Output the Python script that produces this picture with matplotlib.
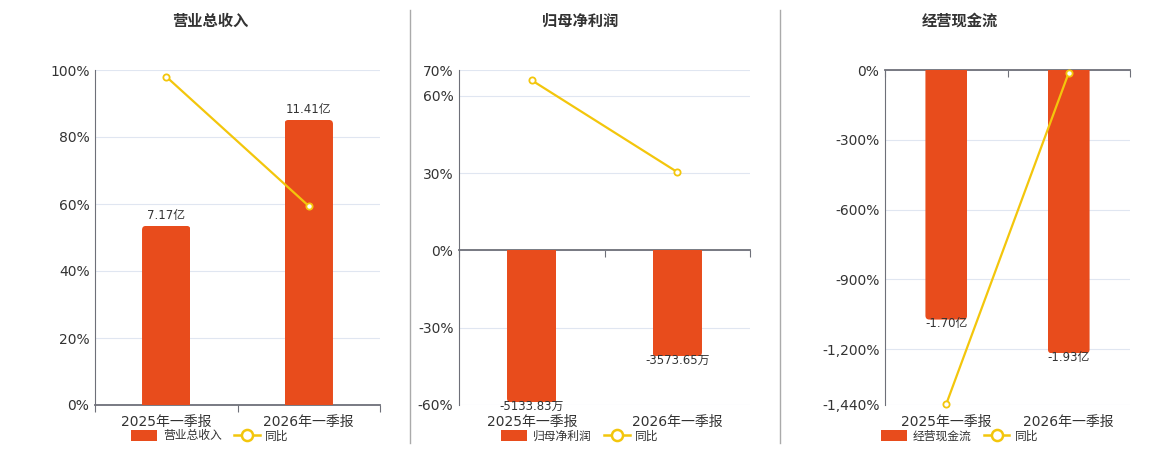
import matplotlib.pyplot as plt
from matplotlib.patches import Patch, FancyBboxPatch
from matplotlib.lines import Line2D
from matplotlib.ticker import FuncFormatter

plt.rcParams['font.family'] = ['DejaVu Sans', 'Noto Sans CJK SC']

# data
periods = ['2025年一季报', '2026年一季报']

revenue = [7.17, 11.41]              # 亿
revenue_labels = ['7.17亿', '11.41亿']
revenue_yoy = [98.0, 59.4]           # %

net_profit = [-5133.83, -3573.65]    # 万
net_profit_labels = ['-5133.83万', '-3573.65万']
net_profit_yoy = [66.0, 30.4]

cash_flow = [-1.70, -1.93]           # 亿
cash_flow_labels = ['-1.70亿', '-1.93亿']
cash_flow_yoy = [-1436.0, -11.6]

BAR_COLOR = '#e84c1c'
LINE_COLOR = '#f3c60c'
AXIS_COLOR = '#6e7079'
GRID_COLOR = '#e0e6f1'
TEXT_COLOR = '#333333'

W, H = 1160, 450
BAR_W = 0.34
CORNER_PX = 4

panels = [
    dict(title='营业总收入', name='营业总收入', bars=revenue, labels=revenue_labels,
         yoy=revenue_yoy, pct_lim=(0, 100), pct_ticks=[0, 20, 40, 60, 80, 100],
         bar_lim=(0, 13.41), box=(95, 70, 380, 405), cx=210),
    dict(title='归母净利润', name='归母净利润', bars=net_profit, labels=net_profit_labels,
         yoy=net_profit_yoy, pct_lim=(-60, 70), pct_ticks=[-60, -30, 0, 30, 60, 70],
         bar_lim=(-5221, 6091), box=(459, 70, 750, 405), cx=580),
    dict(title='经营现金流', name='经营现金流', bars=cash_flow, labels=cash_flow_labels,
         yoy=cash_flow_yoy, pct_lim=(-1440, 0), pct_ticks=[-1440, -1200, -900, -600, -300, 0],
         bar_lim=(-2.282, 0), box=(885, 70, 1130, 405), cx=960),
]

fig = plt.figure(figsize=(W / 100, H / 100), dpi=100)

for p in panels:
    x0, y0, x1, y1 = p['box']
    ax = fig.add_axes([x0 / W, 1 - y1 / H, (x1 - x0) / W, (y1 - y0) / H])
    x = list(range(len(periods)))

    # percent axis: ticks, grid, spines
    ax.set_xlim(-0.5, len(periods) - 0.5)
    ax.set_ylim(*p['pct_lim'])
    ax.set_yticks(p['pct_ticks'])
    ax.yaxis.set_major_formatter(FuncFormatter(lambda v, _: f'{v:,.0f}%'))
    ax.tick_params(axis='y', length=0, labelsize=10, labelcolor=TEXT_COLOR, pad=4)
    ax.yaxis.grid(True, color=GRID_COLOR, lw=0.8)
    ax.set_axisbelow(True)
    for s in ['top', 'right']:
        ax.spines[s].set_visible(False)
    ax.spines['left'].set_color(AXIS_COLOR)
    ax.spines['bottom'].set_color(AXIS_COLOR)
    ax.spines['bottom'].set_linewidth(1.3)
    ax.spines['bottom'].set_position(('data', 0))
    ax.set_xticks([i - 0.5 for i in range(len(periods) + 1)])
    ax.set_xticklabels([])
    ax.tick_params(axis='x', length=5, color=AXIS_COLOR, direction='out')

    sec = ax.secondary_xaxis('bottom')
    sec.set_xticks(x, labels=periods)
    sec.tick_params(length=0, labelsize=10, labelcolor=TEXT_COLOR, pad=7)
    sec.spines['bottom'].set_visible(False)

    # bars on their own hidden scale, far end rounded
    axb = ax.twinx()
    axb.set_ylim(*p['bar_lim'])
    axb.axis('off')
    bars = axb.bar(x, p['bars'], width=BAR_W, color=BAR_COLOR)
    xpp = (len(periods)) / (x1 - x0)
    ypp = (p['bar_lim'][1] - p['bar_lim'][0]) / (y1 - y0)
    r = CORNER_PX * xpp
    for rect in bars:
        bx, by = rect.get_x(), rect.get_y()
        bw, bh = rect.get_width(), rect.get_height()
        ext = CORNER_PX * ypp
        if bh >= 0:
            yb, hh = by - ext, bh + ext
        else:
            yb, hh = by + bh, -bh + ext
        rp = FancyBboxPatch((bx, yb), bw, hh,
                            boxstyle=f'round,pad=0,rounding_size={r}',
                            mutation_aspect=ypp / xpp, facecolor=BAR_COLOR,
                            edgecolor='none')
        axb.add_patch(rp)
        rp.set_clip_path(rect)
        rect.set_facecolor('none')
    for xi, v, lab in zip(x, p['bars'], p['labels']):
        if v >= 0:
            axb.annotate(lab, (xi, v), xytext=(0, 3), textcoords='offset points',
                         ha='center', va='bottom', fontsize=8.5, color=TEXT_COLOR)
        else:
            axb.annotate(lab, (xi, v), xytext=(0, 2), textcoords='offset points',
                         ha='center', va='top', fontsize=8.5, color=TEXT_COLOR)

    # yoy line on top
    axl = ax.twinx()
    axl.set_ylim(*p['pct_lim'])
    axl.axis('off')
    axl.plot(x, p['yoy'], color=LINE_COLOR, lw=1.6, marker='o', ms=4.5,
             mfc='white', mec=LINE_COLOR, mew=1.3, clip_on=False)

    fig.text(p['cx'] / W, 1 - 21 / H, p['title'], ha='center', va='center',
             fontsize=11, fontweight='bold', color=TEXT_COLOR)

    handles = [Patch(facecolor=BAR_COLOR, edgecolor='none'),
               Line2D([], [], color=LINE_COLOR, lw=1.8, marker='o', ms=8,
                      mfc='white', mec=LINE_COLOR, mew=1.8)]
    fig.legend(handles, [p['name'], '同比'], loc='center',
               bbox_to_anchor=(p['cx'] / W, 1 - 436 / H), ncol=2, frameon=False,
               fontsize=8.5, handlelength=2.2, handleheight=1.0,
               columnspacing=1.0, handletextpad=0.5, labelcolor=TEXT_COLOR)

# separators between panels
for sx in [410, 780]:
    fig.add_artist(Line2D([sx / W, sx / W], [1 - 10 / H, 1 - 443 / H],
                          transform=fig.transFigure, color='#aaaaaa', lw=1))

fig.savefig('out.png', dpi=100)
